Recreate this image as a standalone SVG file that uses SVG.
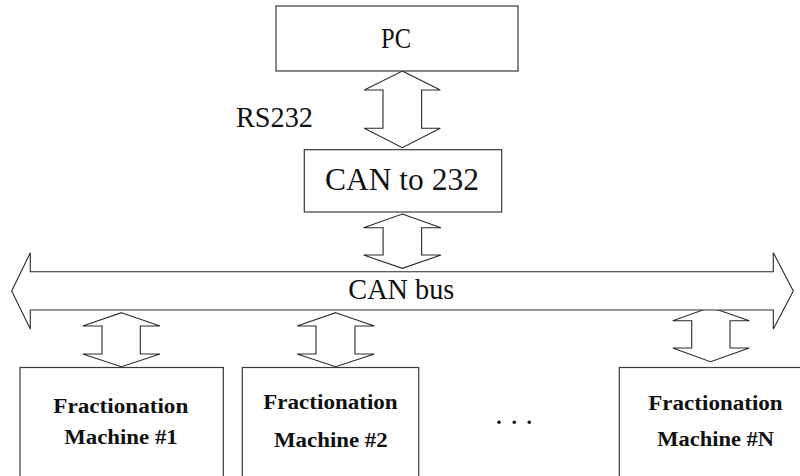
<svg xmlns="http://www.w3.org/2000/svg" width="800" height="476" viewBox="0 0 800 476">
<style>
.box{fill:#fff;stroke:#3a3a3a;stroke-width:1.2}
.arr{fill:#fff;stroke:#2a2a2a;stroke-width:1.1;stroke-linejoin:miter}
</style>
<rect width="800" height="476" fill="#fff"/>
<g id="connectors">
<polygon class="arr" points="402.3,71 440.3,90 421.6,90 421.6,128.3 440.3,128.3 402.3,147.7 364.3,128.3 383,128.3 383,90 364.3,90"/>
<polygon class="arr" points="402.3,214 441,227.7 421.6,227.7 421.6,255 441,255 402.3,268.3 363.6,255 383.1,255 383.1,227.7 363.6,227.7"/>
<polygon class="arr" points="121.5,312.7 160,326 140.3,326 140.3,354 160,354 121.5,366.7 82.7,354 102,354 102,326 82.7,326"/>
<polygon class="arr" points="335.7,312.7 374.3,326 355,326 355,354 374.3,354 335.7,366.7 297,354 316,354 316,326 297,326"/>
<polygon class="arr" points="710.5,307.3 749.3,320.7 730,320.7 730,348 749.3,348 710.5,361.7 672.7,348 691.7,348 691.7,320.7 672.7,320.7"/>
</g>
<g id="bus">
<polygon class="arr" points="11.7,291 30.3,252.7 30.3,271.7 773.3,271.7 773.3,252.7 793.3,291 773.3,329 773.3,310 30.3,310 30.3,329"/>
<text font-family="Liberation Serif, DejaVu Serif, serif" font-size="29" fill="#111" x="348.3" y="299.3" textLength="106" lengthAdjust="spacingAndGlyphs">CAN bus</text>
</g>
<text font-family="Liberation Serif, DejaVu Serif, serif" font-size="29" fill="#111" x="236" y="127" textLength="77" lengthAdjust="spacingAndGlyphs">RS232</text>
<g id="pc">
<rect class="box" x="276" y="6" width="242" height="65"/>
<text font-family="Liberation Serif, DejaVu Serif, serif" font-size="30" fill="#111" x="381" y="47.7" textLength="30" lengthAdjust="spacingAndGlyphs">PC</text>
</g>
<g id="can232">
<rect class="box" x="304.3" y="149.7" width="197.4" height="62.3"/>
<text font-family="Liberation Serif, DejaVu Serif, serif" font-size="31" fill="#111" x="325" y="190" textLength="154" lengthAdjust="spacingAndGlyphs">CAN to 232</text>
</g>
<g id="machine1">
<rect class="box" x="20" y="367.5" width="203.3" height="130"/>
<text font-family="Liberation Serif, DejaVu Serif, serif" font-size="20" font-weight="bold" fill="#111" x="53.3" y="413" textLength="135" lengthAdjust="spacingAndGlyphs">Fractionation</text>
<text font-family="Liberation Serif, DejaVu Serif, serif" font-size="20" font-weight="bold" fill="#111" x="64.3" y="444" textLength="113.4" lengthAdjust="spacingAndGlyphs">Machine #1</text>
</g>
<g id="machine2">
<rect class="box" x="242.3" y="367.5" width="176.4" height="130"/>
<text font-family="Liberation Serif, DejaVu Serif, serif" font-size="20" font-weight="bold" fill="#111" x="263.3" y="409.3" textLength="134.4" lengthAdjust="spacingAndGlyphs">Fractionation</text>
<text font-family="Liberation Serif, DejaVu Serif, serif" font-size="20" font-weight="bold" fill="#111" x="274" y="446.7" textLength="113.7" lengthAdjust="spacingAndGlyphs">Machine #2</text>
</g>
<g id="dots" fill="#111">
<circle cx="499" cy="422.3" r="1.8"/>
<circle cx="514.3" cy="422.3" r="1.8"/>
<circle cx="529.3" cy="422.3" r="1.8"/>
</g>
<g id="machineN">
<rect class="box" x="619.3" y="367.5" width="200" height="130"/>
<text font-family="Liberation Serif, DejaVu Serif, serif" font-size="20" font-weight="bold" fill="#111" x="648.3" y="410" textLength="134.4" lengthAdjust="spacingAndGlyphs">Fractionation</text>
<text font-family="Liberation Serif, DejaVu Serif, serif" font-size="20" font-weight="bold" fill="#111" x="657.3" y="446" textLength="116.7" lengthAdjust="spacingAndGlyphs">Machine #N</text>
</g>
</svg>
